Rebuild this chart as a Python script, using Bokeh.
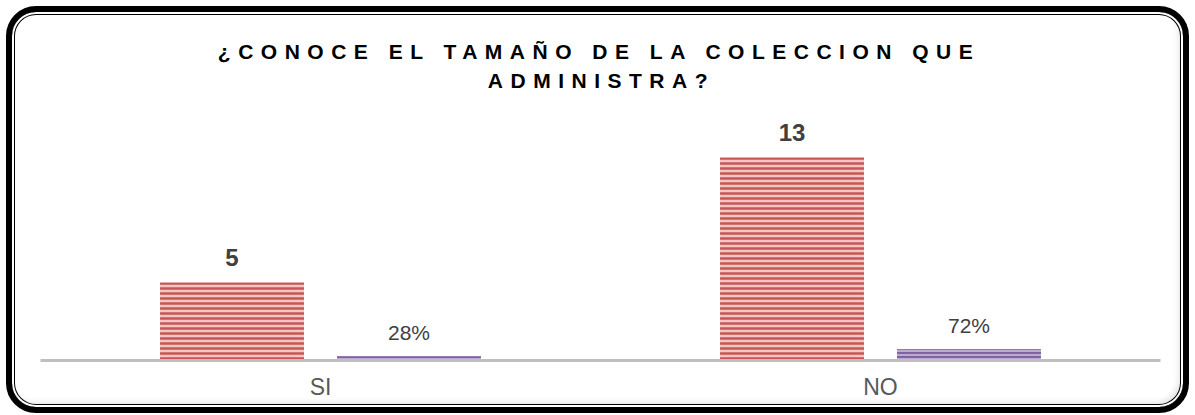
from bokeh.plotting import figure
from bokeh.models import (FactorRange, Range1d, ColumnDataSource, LabelSet, Label,
                          InlineStyleSheet)
from bokeh.core.properties import value
from bokeh.transform import dodge
from bokeh.layouts import column
from bokeh.embed import file_html
from bokeh.resources import INLINE

# ---- data ----
categories = ["SI", "NO"]
counts = [5, 13]
percents = [28, 72]
title_lines = ["¿CONOCE EL TAMAÑO DE LA COLECCION QUE", "ADMINISTRA?"]

src = ColumnDataSource(dict(
    cat=categories,
    count=counts,
    pct=[v / 100 for v in percents],
    count_txt=[str(v) for v in counts],
    pct_txt=[f"{v}%" for v in percents],
))

FONT = "Liberation Sans"

# ---- title figure ----
tf = figure(width=1195, height=110, x_range=Range1d(0, 1195), y_range=Range1d(110, 0),
            x_axis_type=None, y_axis_type=None, toolbar_location=None,
            output_backend="svg", min_border=0, outline_line_color=None)
tf.styles = {"letter-spacing": "7.5px"}
tf.add_layout(Label(x=448.5, y=50.5, text=title_lines[0], text_align="center",
                    text_baseline="middle", text_font=FONT, text_font_size="21px",
                    text_font_style="bold", text_color="#000000"))
tf.add_layout(Label(x=554.5, y=80, text=title_lines[1], text_align="center",
                    text_baseline="middle", text_font=FONT, text_font_size="21px",
                    text_font_style="bold", text_color="#000000"))

# ---- chart figure ----
p = figure(width=1195, height=305, x_range=FactorRange(*categories), y_range=Range1d(0, 16),
           y_axis_type=None, toolbar_location=None, output_backend="svg",
           min_border_left=40, min_border_right=35, min_border_top=0, min_border_bottom=55,
           outline_line_color=None)
p.xgrid.visible = False
p.ygrid.visible = False

OFF = 0.158
W = 0.257
p.vbar(x=dodge("cat", -OFF, range=p.x_range), top="count", width=W, source=src,
       fill_color="#f2c6c5", line_color=None,
       hatch_pattern="horizontal_line", hatch_color="#c65653", hatch_scale=5, hatch_weight=2.5)
p.vbar(x=dodge("cat", OFF, range=p.x_range), top="pct", width=W, source=src,
       fill_color="#bcaad3", line_color=None,
       hatch_pattern="horizontal_line", hatch_color="#8064a2", hatch_scale=4, hatch_weight=2)

p.add_layout(LabelSet(x=dodge("cat", -OFF, range=p.x_range), y="count", text="count_txt",
                      source=src, text_align="center", text_baseline="alphabetic", y_offset=16.5,
                      text_font=value(FONT), text_font_size="24px", text_font_style="bold",
                      text_color="#404040"))
p.add_layout(LabelSet(x=dodge("cat", OFF, range=p.x_range), y="pct", text="pct_txt",
                      source=src, text_align="center", text_baseline="alphabetic", y_offset=16,
                      text_font=value(FONT), text_font_size="21px",
                      text_color="#404040"))

ax = p.xaxis[0]
ax.axis_line_color = "#bfbfbf"
ax.axis_line_width = 3
ax.major_tick_line_color = None
ax.minor_tick_line_color = None
ax.major_tick_out = 0
ax.major_tick_in = 0
ax.major_label_text_font = FONT
ax.major_label_text_font_size = "23px"
ax.major_label_text_color = "#595959"
ax.major_label_standoff = 13

border_css = InlineStyleSheet(css="""
:host { position: relative; }
:host::after {
  content: "";
  position: absolute;
  left: 6px; top: 6px; width: 1183px; height: 407px;
  box-sizing: border-box;
  border: 6px solid #000;
  border-radius: 30px;
  box-shadow: inset 0 0 0 2px #fff, inset 0 0 0 3px #000, inset -4px -4px 6px rgba(0,0,0,0.12);
  pointer-events: none;
  z-index: 10;
}
""")

layout = column(tf, p, spacing=0, stylesheets=[border_css])

open("out.html", "w").write(file_html(layout, INLINE))
